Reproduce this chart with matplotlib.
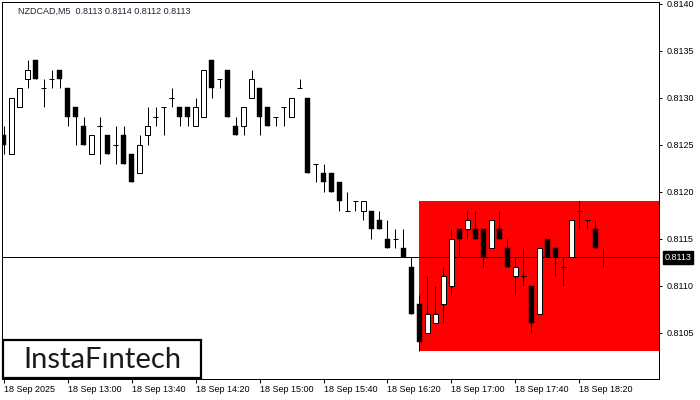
import matplotlib
matplotlib.use("Agg")
import matplotlib.pyplot as plt
from matplotlib.patches import Rectangle
import matplotlib.transforms as mtransforms

# ---- data (prices) ----
opens = [0.8126, 0.8124, 0.8129, 0.8132, 0.8134, 0.8131, 0.8132, 0.8133, 0.8131, 0.8129,
         0.8127, 0.8124, 0.8127, 0.8126, 0.8125, 0.8126, 0.8124, 0.8122, 0.8126, 0.8128,
         0.8129, 0.8130, 0.8129, 0.8129, 0.8127, 0.8128, 0.8134, 0.8132, 0.8133, 0.8127,
         0.8127, 0.8130, 0.8131, 0.8129, 0.8128, 0.8129, 0.8128, 0.8131, 0.8130, 0.8123,
         0.8122, 0.8122, 0.8121, 0.8118, 0.8119, 0.8118, 0.8118, 0.8117, 0.8115, 0.8115,
         0.8114, 0.8112, 0.8108, 0.8105, 0.8106, 0.8108, 0.8110, 0.8116, 0.8116, 0.8116,
         0.8116, 0.8114, 0.8116, 0.8114, 0.8111, 0.8111, 0.8110, 0.8107, 0.8115, 0.8114,
         0.8112, 0.8113, 0.8118, 0.8117, 0.8116, 0.8113]
highs = [0.8127, 0.8130, 0.8131, 0.8134, 0.8134, 0.8132, 0.8133, 0.8133, 0.8131, 0.8129,
         0.8128, 0.8126, 0.8128, 0.8126, 0.8127, 0.8127, 0.8124, 0.8126, 0.8129, 0.8129,
         0.8129, 0.8131, 0.8129, 0.8129, 0.8130, 0.8133, 0.8134, 0.8132, 0.8133, 0.8128,
         0.8129, 0.8133, 0.8131, 0.8129, 0.8128, 0.8129, 0.8130, 0.8132, 0.8130, 0.8123,
         0.8123, 0.8122, 0.8121, 0.8120, 0.8119, 0.8119, 0.8118, 0.8118, 0.8117, 0.8116,
         0.8116, 0.8113, 0.8109, 0.8111, 0.8110, 0.8112, 0.8116, 0.8116, 0.8118, 0.8118,
         0.8116, 0.8117, 0.8118, 0.8115, 0.8113, 0.8114, 0.8110, 0.8114, 0.8115, 0.8114,
         0.8113, 0.8117, 0.8119, 0.8117, 0.8117, 0.8114]
lows = [0.8124, 0.8124, 0.8129, 0.8131, 0.8132, 0.8129, 0.8131, 0.8131, 0.8127, 0.8125,
        0.8125, 0.8124, 0.8123, 0.8124, 0.8123, 0.8123, 0.8121, 0.8122, 0.8125, 0.8127,
        0.8126, 0.8129, 0.8127, 0.8127, 0.8127, 0.8128, 0.8130, 0.8131, 0.8128, 0.8126,
        0.8126, 0.8130, 0.8126, 0.8127, 0.8127, 0.8127, 0.8128, 0.8131, 0.8122, 0.8121,
        0.8120, 0.8120, 0.8118, 0.8118, 0.8118, 0.8117, 0.8115, 0.8116, 0.8114, 0.8114,
        0.8113, 0.8107, 0.8103, 0.8105, 0.8106, 0.8106, 0.8109, 0.8113, 0.8115, 0.8115,
        0.8112, 0.8114, 0.8115, 0.8112, 0.8109, 0.8110, 0.8105, 0.8107, 0.8113, 0.8111,
        0.8110, 0.8113, 0.8116, 0.8116, 0.8114, 0.8112]
closes = [0.8125, 0.8130, 0.8131, 0.8133, 0.8132, 0.8131, 0.8132, 0.8132, 0.8128, 0.8128,
          0.8125, 0.8126, 0.8127, 0.8124, 0.8125, 0.8123, 0.8121, 0.8125, 0.8127, 0.8128,
          0.8129, 0.8130, 0.8128, 0.8128, 0.8129, 0.8133, 0.8131, 0.8132, 0.8128, 0.8126,
          0.8129, 0.8132, 0.8128, 0.8127, 0.8128, 0.8129, 0.8130, 0.8131, 0.8122, 0.8123,
          0.8121, 0.8120, 0.8119, 0.8118, 0.8119, 0.8119, 0.8116, 0.8116, 0.8114, 0.8115,
          0.8113, 0.8107, 0.8104, 0.8107, 0.8107, 0.8111, 0.8115, 0.8115, 0.8117, 0.8115,
          0.8113, 0.8117, 0.8115, 0.8112, 0.8112, 0.8111, 0.8106, 0.8114, 0.8113, 0.8113,
          0.8112, 0.8117, 0.8118, 0.8117, 0.8114, 0.8113]

time_labels = ["18 Sep 2025", "18 Sep 13:00", "18 Sep 13:40", "18 Sep 14:20", "18 Sep 15:00",
               "18 Sep 15:40", "18 Sep 16:20", "18 Sep 17:00", "18 Sep 17:40", "18 Sep 18:20"]
price_ticks = [0.8105, 0.8110, 0.8115, 0.8120, 0.8125, 0.8130, 0.8135, 0.8140]

symbol = "NZDCAD,M5"
current_price = 0.8113
zone_start = 52
zone_low = 0.8103
zone_high = 0.8119

# ---- figure ----
W, H = 700, 400
fig = plt.figure(figsize=(W / 100, H / 100), dpi=100)
fig.patch.set_facecolor("white")
ax_left, ax_right, ax_top, ax_bot = 2, 659, 2, 378.5
ax = fig.add_axes([ax_left / W, (H - ax_bot) / H, (ax_right - ax_left) / W, (ax_bot - ax_top) / H])
ax.set_facecolor("white")

n = len(opens)
xs = list(range(n))
ax.set_xlim(-0.19, 81.94)
ax.set_ylim(0.810011, 0.814021)

px = 0.72  # one pixel in points

# zone rectangle
ax.add_patch(Rectangle((zone_start, zone_low), 100, zone_high - zone_low,
                       facecolor="#ff0000", edgecolor="none", zorder=1))
# current price line
ax.axhline(current_price, color="black", lw=px, zorder=2)

bw = 0.6
for x, o, h, l, c in zip(xs, opens, highs, lows, closes):
    ax.vlines(x, l, h, color="black", lw=px, zorder=3)
    if abs(c - o) < 1e-9:
        ax.hlines(o, x - bw / 2, x + bw / 2, color="black", lw=px, zorder=4)
    elif c > o:
        ax.add_patch(Rectangle((x - 0.27, o), 0.54, c - o, facecolor="white",
                               edgecolor="black", lw=px, zorder=4))
    else:
        ax.add_patch(Rectangle((x - bw / 2, c), bw, o - c, facecolor="black",
                               edgecolor="black", lw=0.3, zorder=4))

for s in ax.spines.values():
    s.set_linewidth(px)
    s.set_color("black")

lab_font = dict(family=["Liberation Sans", "DejaVu Sans"], size=6.5)
ax.yaxis.tick_right()
ax.set_yticks(price_ticks)
ax.set_yticklabels([f"{p:.4f}" for p in price_ticks], **lab_font)
ax.tick_params(axis="y", direction="out", length=2.5, width=px, pad=3, colors="black")

ax.set_xticks(xs[::8][:len(time_labels)])
ax.set_xticklabels(time_labels, ha="left", **lab_font)
ax.tick_params(axis="x", direction="out", length=3, width=px, pad=2, colors="black")

# current price tag
ax.annotate(f"{current_price:.4f}", xy=(1.0, current_price),
            xycoords=mtransforms.blended_transform_factory(ax.transAxes, ax.transData),
            xytext=(4, 0), textcoords="offset points", ha="left", va="center",
            color="white", fontfamily=["Liberation Sans", "DejaVu Sans"], fontsize=6.5,
            bbox=dict(boxstyle="square,pad=0.2", facecolor="black", edgecolor="black"),
            annotation_clip=False)

# title
fig.text(18 / W, 1 - 11 / H, f"{symbol}  0.8113 0.8114 0.8112 0.8113",
         ha="left", va="center", color="#1a2436",
         fontfamily=["Liberation Sans", "DejaVu Sans"], fontsize=6.5)

# watermark box
fig.add_artist(Rectangle((3 / W, (H - 378) / H), 198 / W, 38 / H, transform=fig.transFigure,
                         facecolor="white", edgecolor="black", lw=1.6, zorder=5))
fig.text(102 / W, 1 - 360 / H, "InstaF\u0131ntech", ha="center", va="center",
         fontfamily=["Lato", "DejaVu Sans"], fontsize=21, color="#1a1a1a", zorder=6)

fig.savefig("out.png", dpi=100)
